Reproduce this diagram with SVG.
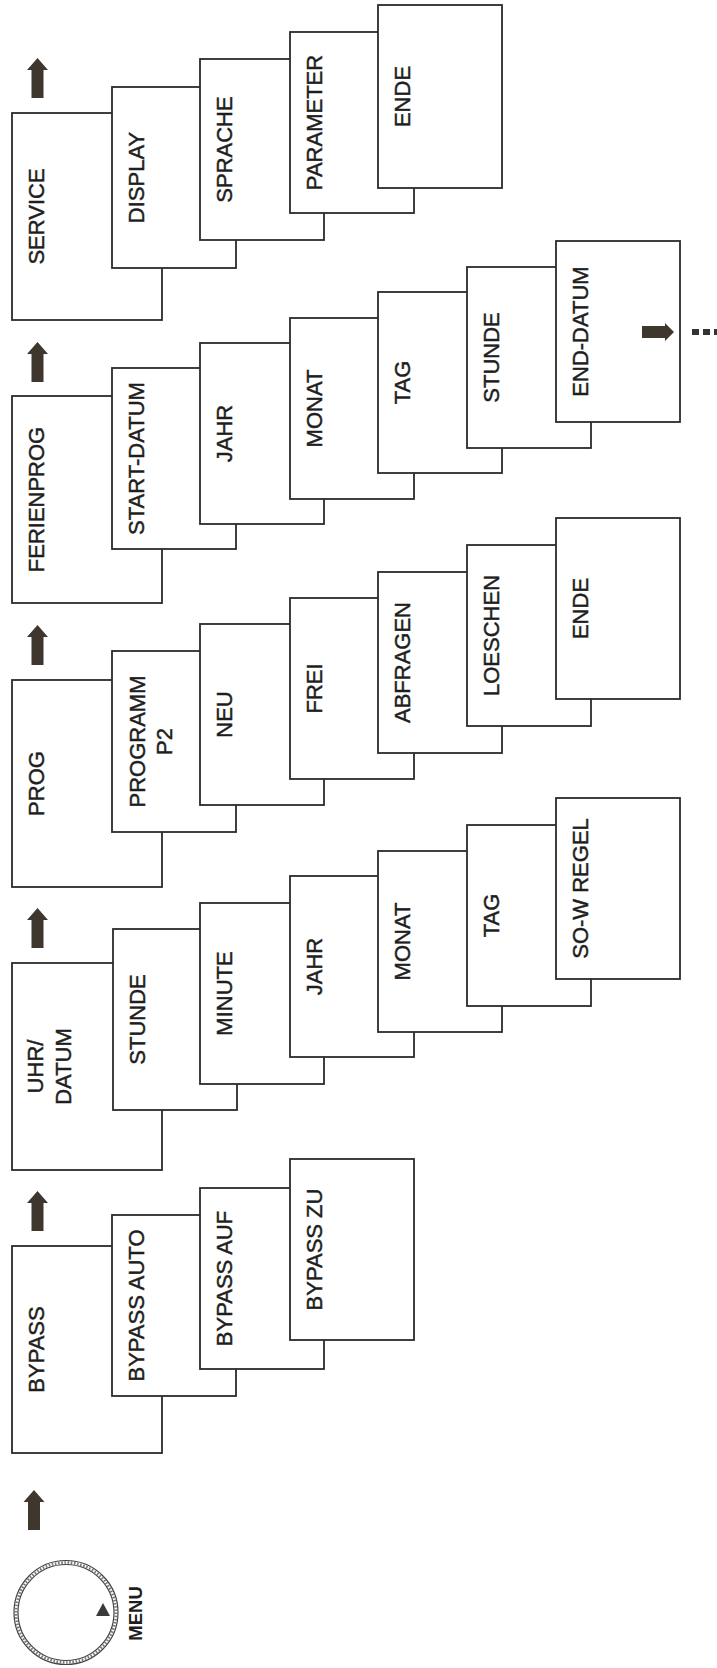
<svg xmlns="http://www.w3.org/2000/svg" width="717" height="1668" viewBox="0 0 717 1668">
<style>
.box{fill:#fff;stroke:#2b2b2b;stroke-width:1.8}
.lbl{font-family:"Liberation Sans",Arial,Helvetica,sans-serif;font-size:22px;fill:#1e1e1e;stroke:#1e1e1e;stroke-width:0.45;text-anchor:middle}
.arr{fill:#3f372d}
</style>
<defs>
<path id="up" d="M0,0 L10.5,12 L6,12 L6,40 L-6,40 L-6,12 L-10.5,12 Z"/>
</defs>
<rect width="717" height="1668" fill="#fff"/>

<g id="menu">
<circle cx="66" cy="1612.5" r="52" fill="none" stroke="#444" stroke-width="1.2"/>
<circle cx="66" cy="1612.5" r="50" fill="none" stroke="#777" stroke-width="2.6" stroke-dasharray="1.6 1.6"/>
<circle cx="66" cy="1612.5" r="48" fill="none" stroke="#444" stroke-width="1.2"/>
<path d="M103,1603 L110,1616 L96,1616 Z" fill="#3a3a3a"/>
<text transform="translate(142,1613.5) rotate(-90)" style="font-family:'Liberation Sans',Arial,sans-serif;font-size:18.5px;font-weight:bold;fill:#1e1e1e;text-anchor:middle">MENU</text>
</g>

<g id="connectors">
<use href="#up" class="arr" x="34" y="1490"/>
<use href="#up" class="arr" x="37.5" y="1191"/>
<use href="#up" class="arr" x="37.5" y="908"/>
<use href="#up" class="arr" x="37.5" y="625"/>
<use href="#up" class="arr" x="37.5" y="342"/>
<use href="#up" class="arr" x="37.5" y="58"/>
</g>

<!-- BYPASS column -->
<g id="bypass"><rect class="box" x="12" y="1246" width="150" height="207"/><text class="lbl" transform="translate(44,1349.5) rotate(-90)">BYPASS</text></g>
<g id="bypass-auto"><rect class="box" x="112" y="1215" width="124" height="181"/><text class="lbl" transform="translate(144,1305.5) rotate(-90)">BYPASS AUTO</text></g>
<g id="bypass-auf"><rect class="box" x="200" y="1188" width="124" height="181"/><text class="lbl" transform="translate(232,1278.5) rotate(-90)">BYPASS AUF</text></g>
<g id="bypass-zu"><rect class="box" x="290" y="1159" width="124" height="181"/><text class="lbl" transform="translate(322,1249.5) rotate(-90)">BYPASS ZU</text></g>

<!-- UHR/DATUM column -->
<g id="uhr"><rect class="box" x="12" y="963" width="150" height="207"/><text class="lbl" transform="translate(43,1066.5) rotate(-90)">UHR/</text><text class="lbl" transform="translate(71,1066.5) rotate(-90)">DATUM</text></g>
<g id="uhr-stunde"><rect class="box" x="113" y="929" width="124" height="181"/><text class="lbl" transform="translate(145,1019.5) rotate(-90)">STUNDE</text></g>
<g id="uhr-minute"><rect class="box" x="200" y="903" width="124" height="181"/><text class="lbl" transform="translate(232,993.5) rotate(-90)">MINUTE</text></g>
<g id="uhr-jahr"><rect class="box" x="290" y="876" width="124" height="181"/><text class="lbl" transform="translate(322,966.5) rotate(-90)">JAHR</text></g>
<g id="uhr-monat"><rect class="box" x="378" y="851" width="124" height="181"/><text class="lbl" transform="translate(410,941.5) rotate(-90)">MONAT</text></g>
<g id="uhr-tag"><rect class="box" x="467" y="825" width="124" height="181"/><text class="lbl" transform="translate(499,915.5) rotate(-90)">TAG</text></g>
<g id="uhr-sow"><rect class="box" x="556" y="798" width="124" height="181"/><text class="lbl" transform="translate(588,888.5) rotate(-90)">SO-W REGEL</text></g>

<!-- PROG column -->
<g id="prog"><rect class="box" x="12" y="680" width="150" height="207"/><text class="lbl" transform="translate(44,783.5) rotate(-90)">PROG</text></g>
<g id="prog-programm"><rect class="box" x="112" y="651" width="124" height="181"/><text class="lbl" transform="translate(145,741.5) rotate(-90)">PROGRAMM</text><text class="lbl" transform="translate(172,741.5) rotate(-90)">P2</text></g>
<g id="prog-neu"><rect class="box" x="200" y="624" width="124" height="181"/><text class="lbl" transform="translate(232,714.5) rotate(-90)">NEU</text></g>
<g id="prog-frei"><rect class="box" x="290" y="598" width="124" height="181"/><text class="lbl" transform="translate(322,688.5) rotate(-90)">FREI</text></g>
<g id="prog-abfragen"><rect class="box" x="378" y="572" width="124" height="181"/><text class="lbl" transform="translate(410,662.5) rotate(-90)">ABFRAGEN</text></g>
<g id="prog-loeschen"><rect class="box" x="467" y="545" width="124" height="181"/><text class="lbl" transform="translate(499,635.5) rotate(-90)">LOESCHEN</text></g>
<g id="prog-ende"><rect class="box" x="556" y="518" width="124" height="181"/><text class="lbl" transform="translate(588,608.5) rotate(-90)">ENDE</text></g>

<!-- FERIENPROG column -->
<g id="ferien"><rect class="box" x="12" y="396" width="150" height="207"/><text class="lbl" transform="translate(44,499.5) rotate(-90)">FERIENPROG</text></g>
<g id="ferien-start"><rect class="box" x="112" y="368" width="124" height="181"/><text class="lbl" transform="translate(144,458.5) rotate(-90)">START-DATUM</text></g>
<g id="ferien-jahr"><rect class="box" x="200" y="343" width="124" height="181"/><text class="lbl" transform="translate(232,433.5) rotate(-90)">JAHR</text></g>
<g id="ferien-monat"><rect class="box" x="290" y="318" width="124" height="181"/><text class="lbl" transform="translate(322,408.5) rotate(-90)">MONAT</text></g>
<g id="ferien-tag"><rect class="box" x="378" y="292" width="124" height="181"/><text class="lbl" transform="translate(410,382.5) rotate(-90)">TAG</text></g>
<g id="ferien-stunde"><rect class="box" x="467" y="267" width="124" height="181"/><text class="lbl" transform="translate(499,357.5) rotate(-90)">STUNDE</text></g>
<g id="ferien-end"><rect class="box" x="556" y="241" width="124" height="181"/><text class="lbl" transform="translate(588,331.5) rotate(-90)">END-DATUM</text></g>

<!-- SERVICE column -->
<g id="service"><rect class="box" x="12" y="113" width="150" height="207"/><text class="lbl" transform="translate(44,216.5) rotate(-90)">SERVICE</text></g>
<g id="service-display"><rect class="box" x="112" y="87" width="124" height="181"/><text class="lbl" transform="translate(144,177.5) rotate(-90)">DISPLAY</text></g>
<g id="service-sprache"><rect class="box" x="200" y="59" width="124" height="181"/><text class="lbl" transform="translate(232,149.5) rotate(-90)">SPRACHE</text></g>
<g id="service-parameter"><rect class="box" x="290" y="32" width="124" height="181"/><text class="lbl" transform="translate(322,122.5) rotate(-90)">PARAMETER</text></g>
<g id="service-ende"><rect class="box" x="378" y="5" width="124" height="183"/><text class="lbl" transform="translate(410,96.5) rotate(-90)">ENDE</text></g>

<g id="continue">
<path class="arr" d="M642,326 L665,326 L665,323 L674,332 L665,341 L665,338 L642,338 Z"/>
<rect x="692" y="329" width="7" height="6" fill="#333"/>
<rect x="703" y="329" width="7" height="6" fill="#333"/>
<rect x="714" y="329" width="7" height="6" fill="#333"/>
</g>
</svg>
